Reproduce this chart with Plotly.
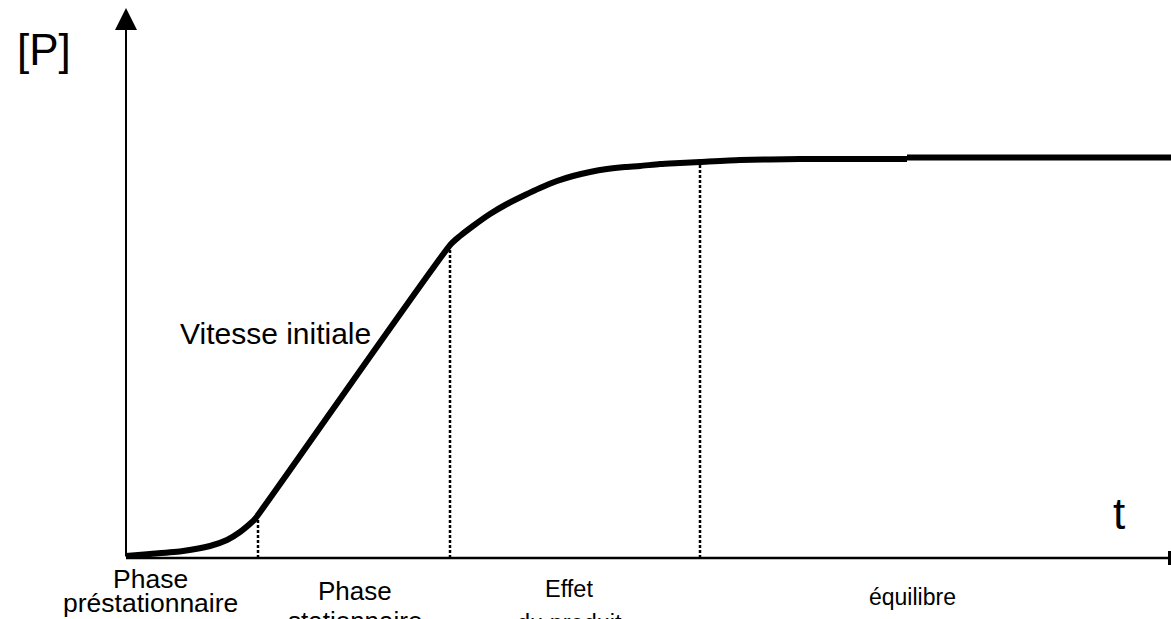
import plotly.graph_objects as go

# Reference frame: origin at the axes' intersection (arbitrary units)
# Curve [P](t)
t_curve = [0, 24, 57, 84, 101, 114, 126, 129,
           325, 334, 347, 364, 381, 399, 414, 431, 447, 464, 481, 499, 514, 534, 554, 574, 614, 674, 724, 781]
p_curve = [2, 4, 7, 12, 18, 26, 36, 39,
           314, 322, 332, 344, 354, 363, 370, 377, 382, 386, 389, 391, 392, 394, 395, 396, 398, 399, 399, 399]
t_plateau = [781, 1045]
p_plateau = [400.5, 400.5]

# Vertical dotted phase boundaries
t_bounds = [132, 324, 574]
p_bounds_top = [38, 310, 396]

# Labels (one entry per text line); some lines sit partly below the picture's lower edge
label_lines = ["Phase", "préstationnaire", "Phase", "stationnaire", "Effet", "du produit", "équilibre"]
label_t = [24, 24, 229, 229, 443, 443, 786]
label_p = [-21, -45, -33, -57, -31, -58, -39]
label_shift = [0, 0, 0, -6, 0, -7, 0]
label_size = [26.5, 26.5, 26, 26, 23.5, 23.5, 23]

X0, Y0 = 126, 558  # pixel position of the origin
W, H = 1171, 619
T_END = W - X0

fig = go.Figure()

for tb, pt in zip(t_bounds, p_bounds_top):
    fig.add_trace(go.Scatter(x=[tb, tb], y=[0, pt], mode="lines",
                             line=dict(color="black", width=2.5, dash="3px,2px"),
                             hoverinfo="skip", showlegend=False))

fig.add_trace(go.Scatter(x=t_curve, y=p_curve, mode="lines",
                         line=dict(color="black", width=6, shape="spline", smoothing=0.6),
                         hoverinfo="skip", showlegend=False))
fig.add_trace(go.Scatter(x=t_plateau, y=p_plateau, mode="lines",
                         line=dict(color="black", width=6),
                         hoverinfo="skip", showlegend=False))

# Y axis with arrow
fig.add_annotation(x=0, y=550, ax=0, ay=0, xref="x", yref="y", axref="x", ayref="y",
                   showarrow=True, arrowhead=2, arrowsize=2.2, arrowwidth=2, arrowcolor="black", text="")
# X axis line, its arrowhead cut by the right edge (only its base shows)
fig.add_shape(type="line", x0=0, x1=T_END, y0=0, y1=0, xref="x", yref="y",
              line=dict(color="black", width=2.5))
fig.add_shape(type="line", x0=T_END - 1.5, x1=T_END - 1.5, y0=-7, y1=7, xref="x", yref="y",
              line=dict(color="black", width=3))

font = "Liberation Sans, Arial, sans-serif"
fig.add_annotation(x=-82, y=509, text="[P]", showarrow=False, font=dict(size=44, family=font, color="black"))
fig.add_annotation(x=993, y=45, text="t", showarrow=False, font=dict(size=44, family=font, color="black"))
fig.add_annotation(x=149, y=225, text="Vitesse initiale", showarrow=False, font=dict(size=30, family=font, color="black"))

for lab, tt, pp, sh, s in zip(label_lines, label_t, label_p, label_shift, label_size):
    fig.add_annotation(x=tt, y=pp, yshift=sh, text=lab, showarrow=False, yanchor="middle",
                       font=dict(size=s, family=font, color="black"))

fig.update_layout(
    width=W, height=H,
    margin=dict(l=0, r=0, t=0, b=0),
    paper_bgcolor="white", plot_bgcolor="white",
    xaxis=dict(range=[-X0, T_END], visible=False, fixedrange=True),
    yaxis=dict(range=[Y0 - H, Y0], visible=False, fixedrange=True),
    showlegend=False,
)

fig.write_html("out.html", config={"displayModeBar": False},
               post_script="document.body.style.margin='0';")
